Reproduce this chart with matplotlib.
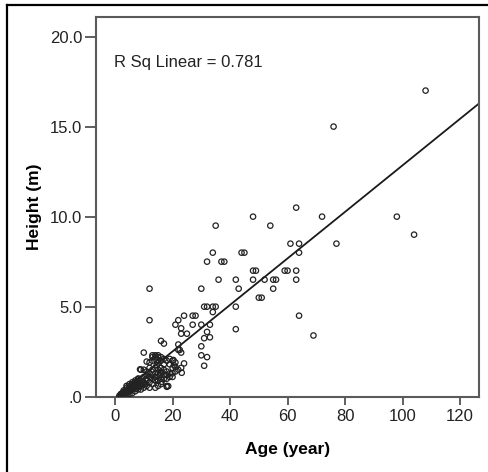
import matplotlib
matplotlib.use('Agg')
import matplotlib.pyplot as plt
from matplotlib.lines import Line2D
import numpy as np

plt.rcParams['font.family'] = ['Liberation Sans', 'DejaVu Sans']

# Tree age (years) and height (m)
age = [108, 76, 63, 48, 72, 98, 35, 54, 104, 61, 64, 77, 34, 44, 45, 64,
       32, 37, 38, 48, 49, 59, 60, 63, 36, 42, 48, 52, 55, 56, 63,
       12, 30, 43, 55, 50, 51, 31, 32, 34, 35, 42, 34, 24, 27, 28, 64,
       12, 22, 21, 27, 30, 33, 23, 42, 23, 25, 32, 33, 31, 69,
       16, 17, 22, 30, 22.5, 10, 23, 30, 32, 31, 24,
       13, 14, 14, 15, 13, 12, 15, 16, 17, 18, 19, 20, 19, 17,
       22, 21, 20, 23, 20, 19, 20, 18, 18, 18, 17, 16, 15, 14, 14, 13,
       12, 11, 10, 9, 11, 10, 12, 13, 15, 14, 16, 15, 9, 8, 8, 7, 7,
       6, 6, 5, 5, 4, 4, 3, 3, 2, 2, 5, 6, 4, 3, 7, 8, 9, 10, 11, 12,
       9, 10, 11, 12, 13, 16, 17, 18, 21, 22, 14, 16, 6, 5, 4, 7, 8, 6,
       5, 4.5, 3.5, 2.5, 11, 8.7, 8.1, 20.5, 21, 23.2, 16.2, 13.9, 18.5,
       20.3, 14.5, 15.5, 6.5, 7.5, 5.5, 3, 9.5, 10.5,
       1.5, 2, 2.5, 3, 3.5, 4, 4.5, 5, 5.5, 6, 6.5, 7, 7.5, 8, 3, 4, 5,
       6, 7, 8, 9, 10, 11, 12, 13, 14, 15, 16, 17, 18, 19, 13, 14, 15, 16]
height = [17.0, 15.0, 10.5, 10.0, 10.0, 10.0, 9.5, 9.5, 9.0, 8.5, 8.5, 8.5,
          8.0, 8.0, 8.0, 8.0, 7.5, 7.5, 7.5, 7.0, 7.0, 7.0, 7.0, 7.0,
          6.5, 6.5, 6.5, 6.5, 6.5, 6.5, 6.5, 6.0, 6.0, 6.0, 6.0, 5.5, 5.5,
          5.0, 5.0, 5.0, 5.0, 5.0, 4.7, 4.5, 4.5, 4.5, 4.5,
          4.25, 4.25, 4.0, 4.0, 4.0, 4.0, 3.8, 3.75, 3.5, 3.5, 3.6, 3.3,
          3.25, 3.4, 3.1, 2.95, 2.9, 2.8, 2.6, 2.45, 2.45, 2.3, 2.2, 1.72,
          1.85, 2.2, 2.3, 2.1, 2.2, 2.0, 1.9, 1.9, 2.0, 2.1, 2.0, 2.1, 2.0,
          1.8, 1.8, 1.5, 1.4, 1.6, 1.6, 1.3, 1.1, 1.1, 1.0, 0.55, 0.6, 1.2,
          1.3, 1.5, 1.6, 1.3, 1.2, 1.1, 1.2, 1.5, 1.5, 0.9, 0.8, 0.8, 0.7,
          0.6, 0.9, 1.0, 0.9, 0.7, 0.8, 0.6, 0.7, 0.5, 0.6, 0.4, 0.5, 0.3,
          0.3, 0.4, 0.2, 0.15, 0.1, 0.05, 0.7, 0.8, 0.6, 0.35, 0.3, 0.4,
          0.4, 0.5, 0.6, 0.5, 1.0, 1.1, 1.4, 1.6, 1.5, 1.6, 1.5, 1.4, 1.9,
          2.6, 0.5, 0.7, 0.2, 0.15, 0.1, 0.9, 1.0, 0.5, 0.4, 0.25, 0.3,
          0.15, 1.95, 1.52, 1.0, 1.75, 1.65, 1.33, 0.83, 0.93, 0.59, 2.04,
          1.75, 1.2, 0.55, 0.65, 0.45, 0.25, 0.85, 0.7,
          0.05, 0.15, 0.2, 0.25, 0.2, 0.2, 0.35, 0.45, 0.35, 0.45, 0.5,
          0.6, 0.45, 0.55, 0.1, 0.5, 0.6, 0.7, 0.8, 0.9, 0.6, 0.7, 1.0,
          1.3, 1.0, 1.1, 1.3, 1.4, 1.0, 1.2, 1.3, 2.3, 2.2, 2.3, 2.2]

# Linear fit reported by the stats package
fit_slope = 0.1292
fit_intercept = -0.07
r_sq = 0.781

x_ticks = [0, 20, 40, 60, 80, 100, 120]
y_ticks = [0, 5, 10, 15, 20]
y_tick_labels = ['.0', '5.0', '10.0', '15.0', '20.0']

fig = plt.figure(figsize=(4.89, 4.72), dpi=100)
ax = fig.add_axes([0.197, 0.1595, 0.7827, 0.805])

ax.scatter(age, height, s=15, facecolors='none', edgecolors='#222222',
           linewidths=0.9, zorder=3)

xlim = (-6.5, 126.6)
xs = np.array(xlim)
ax.plot(xs, fit_slope * xs + fit_intercept, color='#1a1a1a', lw=1.3, zorder=2)

ax.set_xlim(*xlim)
ax.set_ylim(0, 21.1)
ax.set_xticks(x_ticks)
ax.set_yticks(y_ticks)
ax.set_yticklabels(y_tick_labels)
ax.tick_params(axis='x', length=6, width=1.2, pad=3, labelsize=12,
               color='#444444', labelcolor='#222222')
ax.tick_params(axis='y', length=8, width=1.2, pad=2, labelsize=12,
               color='#444444', labelcolor='#222222')
for sp in ax.spines.values():
    sp.set_color('#5a5a5a')
    sp.set_linewidth(1.5)

ax.set_xlabel('Age (year)', fontsize=12.5, fontweight='bold', labelpad=13)
ax.set_ylabel('Height (m)', fontsize=12.5, fontweight='bold', labelpad=6)

ax.text(0.046, 0.879, f'R Sq Linear = {r_sq}', transform=ax.transAxes,
        fontsize=12, va='center', ha='left', color='#222222')

# outer frame (top and left edges)
fig.add_artist(Line2D([7 / 489, 1.0], [1 - 5 / 472, 1 - 5 / 472],
                      color='black', lw=1.6, transform=fig.transFigure))
fig.add_artist(Line2D([7 / 489, 7 / 489], [0.0, 1 - 5 / 472],
                      color='black', lw=1.6, transform=fig.transFigure))

fig.savefig('out.png', dpi=100)
